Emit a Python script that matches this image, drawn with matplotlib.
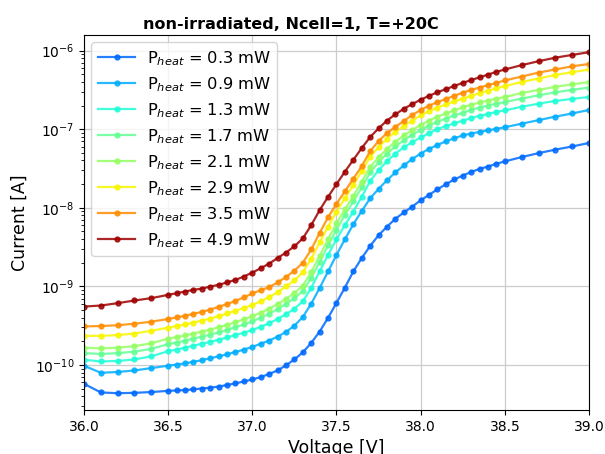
import numpy as np
import matplotlib
matplotlib.use("Agg")
import matplotlib.pyplot as plt

# bias voltage points [V]
voltage = [36.0, 36.1, 36.2, 36.3, 36.4, 36.5,
           36.55, 36.6, 36.65, 36.7, 36.75, 36.8, 36.85, 36.9, 36.95, 37.0,
           37.05, 37.1, 37.15, 37.2, 37.25, 37.3, 37.35, 37.4, 37.45, 37.5,
           37.55, 37.6, 37.65, 37.7, 37.75, 37.8, 37.85, 37.9, 37.95, 38.0,
           38.05, 38.1, 38.15, 38.2, 38.25, 38.3, 38.35, 38.4, 38.45,
           38.5, 38.6, 38.7, 38.8, 38.9, 39.0]

p_heat = [0.3, 0.9, 1.3, 1.7, 2.1, 2.9, 3.5, 4.9]

# log10 of current [A]
log_i_03 = [-10.24, -10.35, -10.36, -10.355, -10.345, -10.33,
            -10.325, -10.32, -10.31, -10.30, -10.29, -10.275, -10.255, -10.235, -10.21, -10.185,
            -10.155, -10.115, -10.07, -10.005, -9.93, -9.84, -9.72, -9.575, -9.40, -9.21,
            -9.015, -8.81, -8.64, -8.485, -8.35, -8.24, -8.14, -8.06, -7.985, -7.905,
            -7.835, -7.765, -7.70, -7.64, -7.59, -7.545, -7.505, -7.475, -7.44,
            -7.41, -7.355, -7.305, -7.26, -7.22, -7.175]
log_i_09 = [-10.01, -10.10, -10.09, -10.07, -10.04, -10.01,
            -9.995, -9.98, -9.96, -9.94, -9.915, -9.89, -9.865, -9.835, -9.805, -9.77,
            -9.73, -9.69, -9.64, -9.58, -9.50, -9.39, -9.22, -9.02, -8.81, -8.60,
            -8.40, -8.21, -8.04, -7.88, -7.76, -7.65, -7.55, -7.46, -7.38, -7.31,
            -7.25, -7.20, -7.155, -7.115, -7.08, -7.055, -7.035, -7.015, -6.995,
            -6.975, -6.93, -6.885, -6.84, -6.80, -6.755]
log_i_13 = [-9.935, -9.955, -9.95, -9.93, -9.89, -9.825,
            -9.805, -9.78, -9.755, -9.73, -9.705, -9.68, -9.65, -9.62, -9.59, -9.555,
            -9.515, -9.47, -9.415, -9.355, -9.285, -9.19, -9.02, -8.81, -8.60, -8.40,
            -8.22, -8.05, -7.86, -7.66, -7.52, -7.41, -7.31, -7.23, -7.165, -7.105,
            -7.05, -7.00, -6.96, -6.925, -6.89, -6.86, -6.83, -6.805, -6.78,
            -6.76, -6.715, -6.675, -6.64, -6.615, -6.59]
log_i_17 = [-9.85, -9.86, -9.85, -9.83, -9.795, -9.735,
            -9.715, -9.69, -9.665, -9.64, -9.615, -9.585, -9.555, -9.52, -9.485, -9.445,
            -9.40, -9.35, -9.29, -9.225, -9.15, -9.06, -8.89, -8.69, -8.48, -8.28,
            -8.09, -7.92, -7.74, -7.55, -7.42, -7.31, -7.22, -7.14, -7.07, -7.01,
            -6.955, -6.905, -6.865, -6.825, -6.79, -6.755, -6.725, -6.70, -6.675,
            -6.655, -6.61, -6.57, -6.53, -6.50, -6.47]
log_i_21 = [-9.78, -9.79, -9.78, -9.76, -9.725, -9.665,
            -9.645, -9.625, -9.60, -9.575, -9.55, -9.52, -9.49, -9.455, -9.42, -9.38,
            -9.335, -9.285, -9.225, -9.16, -9.085, -8.99, -8.82, -8.61, -8.40, -8.20,
            -8.02, -7.85, -7.67, -7.48, -7.36, -7.25, -7.16, -7.08, -7.01, -6.945,
            -6.89, -6.84, -6.80, -6.76, -6.72, -6.69, -6.66, -6.635, -6.61,
            -6.59, -6.54, -6.50, -6.46, -6.43, -6.40]
log_i_29 = [-9.63, -9.63, -9.62, -9.60, -9.565, -9.525,
            -9.505, -9.485, -9.46, -9.435, -9.41, -9.38, -9.345, -9.31, -9.275, -9.235,
            -9.19, -9.135, -9.075, -9.00, -8.925, -8.82, -8.65, -8.44, -8.24, -8.05,
            -7.88, -7.71, -7.53, -7.35, -7.23, -7.12, -7.035, -6.96, -6.89, -6.825,
            -6.77, -6.725, -6.685, -6.645, -6.61, -6.575, -6.54, -6.51, -6.48,
            -6.45, -6.40, -6.355, -6.31, -6.275, -6.24]
log_i_35 = [-9.51, -9.505, -9.495, -9.475, -9.45, -9.415,
            -9.395, -9.375, -9.35, -9.325, -9.295, -9.26, -9.225, -9.185, -9.14, -9.09,
            -9.05, -9.01, -8.95, -8.88, -8.80, -8.70, -8.53, -8.32, -8.12, -7.95,
            -7.79, -7.63, -7.47, -7.28, -7.15, -7.05, -6.97, -6.895, -6.82, -6.755,
            -6.70, -6.655, -6.615, -6.575, -6.535, -6.50, -6.47, -6.44, -6.41,
            -6.38, -6.33, -6.28, -6.24, -6.20, -6.17]
log_i_49 = [-9.257, -9.244, -9.214, -9.18, -9.15, -9.108,
            -9.087, -9.066, -9.045, -9.028, -9.003, -8.98, -8.95, -8.917, -8.875, -8.824,
            -8.77, -8.71, -8.64, -8.57, -8.49, -8.39, -8.22, -8.03, -7.86, -7.70,
            -7.54, -7.39, -7.24, -7.10, -6.99, -6.89, -6.81, -6.74, -6.68, -6.625,
            -6.575, -6.53, -6.49, -6.45, -6.41, -6.375, -6.34, -6.305, -6.27,
            -6.24, -6.185, -6.135, -6.09, -6.055, -6.02]

curves = [log_i_03, log_i_09, log_i_13, log_i_17, log_i_21, log_i_29, log_i_35, log_i_49]
# position of each curve on the jet colormap
jet_pos = [0.23, 0.295, 0.39, 0.47, 0.53, 0.65, 0.76, 0.97]

fig = plt.figure(figsize=(6.05, 4.54), dpi=100)
ax = fig.add_axes([84 / 605, 1 - 410 / 454, 505 / 605, 375 / 454])

for p, logi, c in zip(p_heat, curves, jet_pos):
    current = 10.0 ** np.array(logi)
    ax.plot(voltage, current, marker='o', markersize=3.5, linewidth=1.6,
            color=plt.cm.jet(c), alpha=0.85, label=r'P$_{heat}$ = %.1f mW' % p)

ax.set_yscale('log')
ax.set_xlim(36.0, 39.0)
ax.set_ylim(2.67e-11, 1.58e-6)
ax.set_xticks([36.0, 36.5, 37.0, 37.5, 38.0, 38.5, 39.0])
ax.tick_params(labelsize=10)
ax.grid(True, which='major', color='#cccccc', linewidth=0.9)

ax.set_xlabel('Voltage [V]', fontsize=12.5)
ax.set_ylabel('Current [A]', fontsize=12.5)
ax.set_title('non-irradiated, Ncell=1, T=+20C', fontsize=11.5, fontweight='bold',
             x=0.41, pad=4)
ax.legend(loc='upper left', fontsize=11.7, labelspacing=0.45, handlelength=2.3,
          handletextpad=0.7, borderaxespad=0.45)

fig.savefig('out.png', dpi=100)
